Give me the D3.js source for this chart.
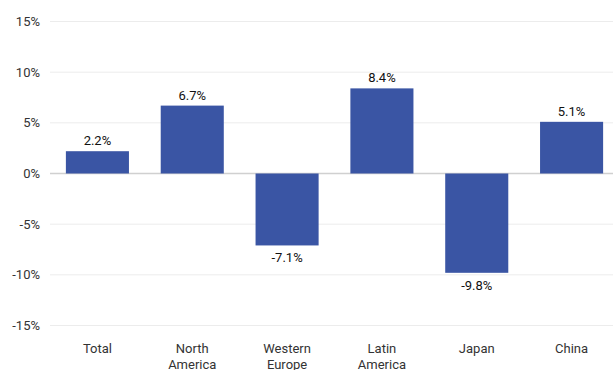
<!DOCTYPE html>
<html><head><meta charset="utf-8">
<script src="https://cdn.jsdelivr.net/npm/d3@7"></script>
<style>body{margin:0;background:#fff}svg{display:block}</style>
</head><body><svg id="c" width="613" height="370"></svg>
<script>
const categories = [["Total"], ["North","America"], ["Western","Europe"], ["Latin","America"], ["Japan"], ["China"]];
const values = [2.2, 6.7, -7.1, 8.4, -9.8, 5.1];
const yTicks = [-15, -10, -5, 0, 5, 10, 15];

const svg = d3.select("#c");
const font = "Roboto, 'DejaVu Sans', sans-serif";
const x = d3.scaleBand().domain(d3.range(categories.length)).range([50, 619]).paddingInner(0.335).paddingOuter(0.1675);
const y = d3.scaleLinear().domain([-15, 15]).range([325.5, 21.5]);

svg.append("g").selectAll("line").data(yTicks).join("line")
  .attr("x1", 50).attr("x2", 613)
  .attr("y1", d => y(d)).attr("y2", d => y(d))
  .attr("stroke", d => d === 0 ? "#d0d0d0" : "#ececec").attr("stroke-width", d => d === 0 ? 1.5 : 1);

svg.append("g").selectAll("text").data(yTicks).join("text")
  .attr("x", 40).attr("y", d => y(d) + 4.5).attr("text-anchor", "end")
  .attr("font-family", font).attr("font-size", 13).attr("fill", "#333")
  .text(d => d + "%");

svg.append("g").selectAll("rect").data(values).join("rect")
  .attr("x", (d, i) => x(i)).attr("width", x.bandwidth())
  .attr("y", d => y(Math.max(0, d))).attr("height", d => Math.abs(y(d) - y(0)))
  .attr("fill", "#3A55A4");

svg.append("g").selectAll("text").data(values).join("text")
  .attr("x", (d, i) => x(i) + x.bandwidth() / 2)
  .attr("y", d => d >= 0 ? y(d) - 6 : y(d) + 17)
  .attr("text-anchor", "middle").attr("font-family", font).attr("font-size", 13)
  .attr("font-weight", 400).attr("fill", "#111")
  .text(d => d.toFixed(1) + "%");

const cat = svg.append("g").selectAll("text").data(categories).join("text")
  .attr("x", (d, i) => x(i) + x.bandwidth() / 2).attr("y", 353)
  .attr("text-anchor", "middle").attr("font-family", font).attr("font-size", 13).attr("fill", "#333");
cat.selectAll("tspan").data(d => d).join("tspan")
  .attr("x", function() { return this.parentNode.getAttribute("x"); })
  .attr("dy", (d, i) => i === 0 ? 0 : 16).text(d => d);
</script></body></html>
